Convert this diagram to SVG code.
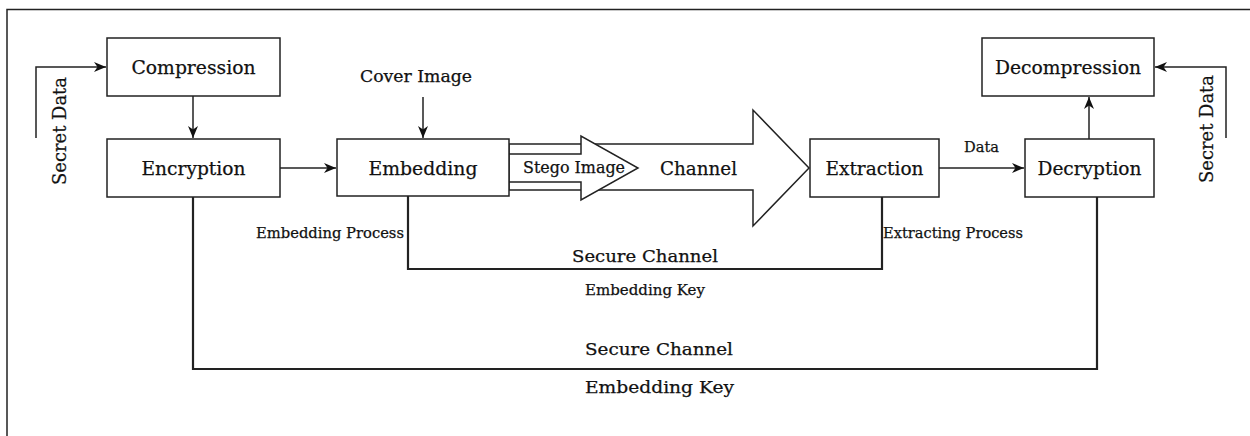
<svg xmlns="http://www.w3.org/2000/svg" width="1250" height="436" viewBox="0 0 1250 436">
  <style>
    .box { fill: #ffffff; stroke: #222222; stroke-width: 1.5; }
    .lbl { font-family: "DejaVu Serif", "Liberation Serif", serif; fill: #111111; stroke: #111111; stroke-width: 0.25; }
    .node { font-size: 19px; }
    .wire { fill: none; stroke: #222222; stroke-width: 1.5; }
    .key { fill: none; stroke: #222222; stroke-width: 2.2; }
    .pipe { fill: #ffffff; stroke: #222222; stroke-width: 1.5; stroke-linejoin: miter; }
  </style>
  <defs>
    <marker id="head" viewBox="0 0 12 10" refX="12" refY="5" markerWidth="12" markerHeight="10" markerUnits="userSpaceOnUse" orient="auto">
      <path d="M0,0 L12,5 L0,10 L3.5,5 Z" fill="#111111"/>
    </marker>
  </defs>

  <rect width="1250" height="436" fill="#ffffff"/>
  <!-- outer frame -->
  <rect x="7" y="9.5" width="1260" height="440" fill="none" stroke="#222222" stroke-width="1.5"/>

  <!-- connectors -->
  <g id="connectors">
    <path class="wire" d="M36,138 V67 H106" marker-end="url(#head)"/>
    <path class="wire" d="M193,96 V138" marker-end="url(#head)"/>
    <path class="wire" d="M280,168 H336" marker-end="url(#head)"/>
    <path class="wire" d="M423,97 V138" marker-end="url(#head)"/>
    <path class="wire" d="M939,168 H1024" marker-end="url(#head)"/>
    <path class="wire" d="M1089,139 V97" marker-end="url(#head)"/>
    <path class="wire" d="M1226,138 V67 H1155" marker-end="url(#head)"/>
    <!-- embedding key paths -->
    <path class="key" d="M408,196 V269 H882 V197"/>
    <path class="key" d="M193,197 V369 H1097 V197"/>
    <!-- channel arrow and stego image arrow -->
    <polygon class="pipe" points="509,144 753,144 753,110 809,168 753,226 753,190 509,190"/>
    <polygon class="pipe" points="509,154 581,154 581,136 638,168 581,200 581,182 509,182"/>
  </g>

  <g id="compression">
    <rect class="box" x="107" y="38" width="173" height="58"/>
    <text class="lbl node" x="193.5" y="74" text-anchor="middle" textLength="124" lengthAdjust="spacingAndGlyphs">Compression</text>
  </g>
  <g id="encryption">
    <rect class="box" x="107" y="139" width="173" height="58"/>
    <text class="lbl node" x="193.5" y="175" text-anchor="middle" textLength="104" lengthAdjust="spacingAndGlyphs">Encryption</text>
  </g>
  <g id="embedding">
    <rect class="box" x="337" y="139" width="172" height="57"/>
    <text class="lbl node" x="423" y="175" text-anchor="middle" textLength="109" lengthAdjust="spacingAndGlyphs">Embedding</text>
  </g>
  <g id="extraction">
    <rect class="box" x="810" y="139" width="129" height="58"/>
    <text class="lbl node" x="874.5" y="175" text-anchor="middle" textLength="98" lengthAdjust="spacingAndGlyphs">Extraction</text>
  </g>
  <g id="decryption">
    <rect class="box" x="1025" y="139" width="129" height="58"/>
    <text class="lbl node" x="1089.5" y="175" text-anchor="middle" textLength="104" lengthAdjust="spacingAndGlyphs">Decryption</text>
  </g>
  <g id="decompression">
    <rect class="box" x="982" y="38" width="172" height="58"/>
    <text class="lbl node" x="1068" y="74" text-anchor="middle" textLength="146" lengthAdjust="spacingAndGlyphs">Decompression</text>
  </g>

  <!-- labels -->
  <g id="labels">
    <text class="lbl" font-size="18" transform="translate(66,131) rotate(-90)" text-anchor="middle" textLength="108" lengthAdjust="spacingAndGlyphs">Secret Data</text>
    <text class="lbl" font-size="18" transform="translate(1213,129) rotate(-90)" text-anchor="middle" textLength="108" lengthAdjust="spacingAndGlyphs">Secret Data</text>
    <text class="lbl" font-size="16" x="416" y="82" text-anchor="middle" textLength="112" lengthAdjust="spacingAndGlyphs">Cover Image</text>
    <text class="lbl" font-size="16" x="574" y="173" text-anchor="middle" textLength="102" lengthAdjust="spacingAndGlyphs">Stego Image</text>
    <text class="lbl" font-size="19" x="698.5" y="175" text-anchor="middle" textLength="77" lengthAdjust="spacingAndGlyphs">Channel</text>
    <text class="lbl" font-size="15" x="981.5" y="152" text-anchor="middle" textLength="35" lengthAdjust="spacingAndGlyphs">Data</text>
    <text class="lbl" font-size="15" x="256" y="238" textLength="148" lengthAdjust="spacingAndGlyphs">Embedding Process</text>
    <text class="lbl" font-size="15" x="883" y="238" textLength="140" lengthAdjust="spacingAndGlyphs">Extracting Process</text>
    <text class="lbl" font-size="17" x="572" y="262" textLength="146" lengthAdjust="spacingAndGlyphs">Secure Channel</text>
    <text class="lbl" font-size="15" x="585" y="295" textLength="120" lengthAdjust="spacingAndGlyphs">Embedding Key</text>
    <text class="lbl" font-size="17" x="585" y="355" textLength="148" lengthAdjust="spacingAndGlyphs">Secure Channel</text>
    <text class="lbl" font-size="17" x="585" y="393" textLength="149" lengthAdjust="spacingAndGlyphs">Embedding Key</text>
  </g>
</svg>
